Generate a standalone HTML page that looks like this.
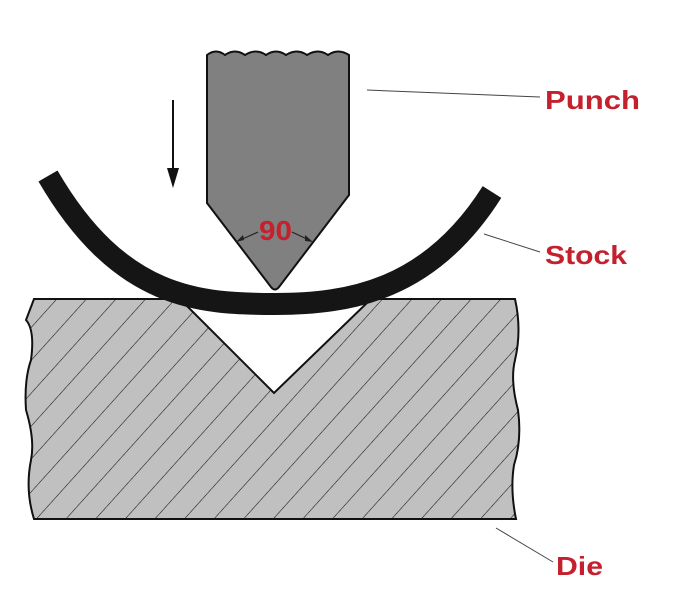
<!DOCTYPE html>
<html><head><style>
html,body{margin:0;padding:0;background:#fff;}
svg{display:block;}
text{font-family:"Liberation Sans",sans-serif;font-weight:bold;fill:#c4202e;}
</style></head><body>
<svg width="678" height="593" viewBox="0 0 678 593">
<defs>
<pattern id="h" patternUnits="userSpaceOnUse" width="22" height="22" patternTransform="rotate(42)">
<rect width="22" height="22" fill="#c0c0c0"/>
<line x1="0" y1="0" x2="0" y2="22" stroke="#111" stroke-width="1.1"/>
</pattern>
</defs>
<!-- die -->
<path d="M34,299 L180,299 L274,393 L371,299 L515,299 Q522,330 515,360 Q510,380 518,410 Q522,440 514,465 Q510,490 516,519 L34,519 Q25,490 31,460 Q35,440 26,410 Q24,380 31,360 Q35,330 26,320 Z" fill="url(#h)" stroke="#111" stroke-width="2"/>
<!-- punch -->
<path d="M207,55 Q216,48 225,55 Q235,48 245,55 Q256,48 266,55 Q276,48 286,55 Q297,48 307,55 Q318,48 328,55 Q338,48 349,55 L349,195 L279,287 Q275,292 271,287 L207,203 Z" fill="#808080" stroke="#111" stroke-width="2"/>
<!-- stock -->
<path d="M48,176 C120,300 200,304 275,304 C350,304 430,290 492,192" fill="none" stroke="#151515" stroke-width="22"/>
<!-- arrow -->
<line x1="173" y1="100" x2="173" y2="175" stroke="#111" stroke-width="2"/>
<path d="M167,168 L179,168 L173,188 Z" fill="#111"/>
<!-- angle -->
<path d="M258,232 L238,241" fill="none" stroke="#222" stroke-width="1.2"/>
<path d="M236,242 L243,235 L244,240 Z" fill="#222"/>
<path d="M292,232 L311,241" fill="none" stroke="#222" stroke-width="1.2"/>
<path d="M313,242 L305,235 L305,241 Z" fill="#222"/>
<text x="259" y="240" font-size="28" textLength="33" lengthAdjust="spacingAndGlyphs">90</text>
<!-- leaders -->
<line x1="367" y1="90" x2="540" y2="97" stroke="#444" stroke-width="1"/>
<line x1="484" y1="234" x2="540" y2="252" stroke="#444" stroke-width="1"/>
<line x1="496" y1="528" x2="553" y2="562" stroke="#444" stroke-width="1"/>
<text x="545" y="109" font-size="26" textLength="95" lengthAdjust="spacingAndGlyphs">Punch</text>
<text x="545" y="264" font-size="26" textLength="82" lengthAdjust="spacingAndGlyphs">Stock</text>
<text x="556" y="575" font-size="26" textLength="47" lengthAdjust="spacingAndGlyphs">Die</text>
</svg>
</body></html>
